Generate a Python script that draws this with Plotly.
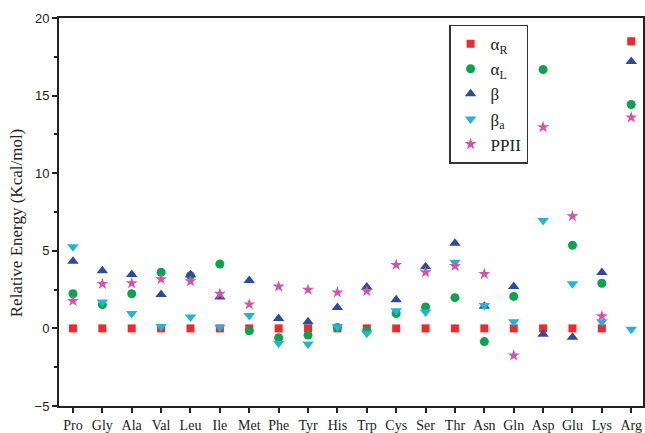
import plotly.graph_objects as go

categories = ["Pro", "Gly", "Ala", "Val", "Leu", "Ile", "Met", "Phe", "Tyr", "His",
              "Trp", "Cys", "Ser", "Thr", "Asn", "Gln", "Asp", "Glu", "Lys", "Arg"]

alpha_R = [0, 0, 0, 0, 0, 0, 0, 0, 0, 0, 0, 0, 0, 0, 0, 0, 0, 0, 0, 18.5]
alpha_L = [2.23, 1.53, 2.23, 3.62, 3.4, 4.15, -0.15, -0.6, -0.43, 0.06,
           -0.15, 0.96, 1.38, 1.98, -0.85, 2.06, 16.68, 5.36, 2.91, 14.43]
beta = [4.32, 3.72, 3.47, 2.19, 3.45, 2.02, 3.09, 0.64, 0.43, 1.34,
        2.66, 1.85, 3.98, 5.49, 1.43, 2.7, -0.38, -0.57, 3.6, 17.2]
beta_a = [5.26, 1.7, 0.96, 0.12, 0.74, 0.08, 0.83, -0.96, -1.0, 0.1,
          -0.32, 1.13, 1.06, 4.26, 1.47, 0.43, 6.96, 2.87, 0.43, -0.06]
ppii = [1.77, 2.87, 2.91, 3.17, 3.04, 2.23, 1.55, 2.7, 2.49, 2.32,
        2.4, 4.09, 3.62, 4.02, 3.51, -1.74, 12.97, 7.23, 0.79, 13.6]

series = [
    ("α<sub>R</sub>", alpha_R, "square", "#EE2A2A", 8),
    ("α<sub>L</sub>", alpha_L, "circle", "#0BA34B", 9),
    ("β", beta, "triangle-up", "#2B4AA0", 10),
    ("β<sub>a</sub>", beta_a, "triangle-down", "#1DB6DA", 10),
    ("PPII", ppii, "star", "#D651A8", 9),
]

fig = go.Figure()
xs = list(range(len(categories)))
for name, vals, sym, col, sz in series:
    fig.add_trace(go.Scatter(
        x=xs, y=vals, mode="markers", name=name,
        marker=dict(symbol=sym, color=col, size=sz, line=dict(width=0)),
    ))

fig.update_layout(
    width=645, height=433,
    margin=dict(l=59, r=0, t=18, b=23),
    paper_bgcolor="white", plot_bgcolor="white",
    showlegend=True,
    legend=dict(
        x=0.668, y=0.983, xanchor="left", yanchor="top",
        bordercolor="#333", borderwidth=1.5, bgcolor="white",
        font=dict(family="Liberation Serif, Times New Roman, serif", size=17, color="#222"),
        itemsizing="trace", tracegroupgap=0, itemwidth=30,
    ),
    annotations=[dict(
        text="Relative Energy (Kcal/mol)", textangle=-90,
        xref="paper", yref="paper", x=-0.073, y=0.472,
        xanchor="center", yanchor="middle", showarrow=False,
        font=dict(family="Liberation Serif, Times New Roman, serif", size=17, color="#222"),
    )],
)
fig.update_xaxes(
    range=[-0.475, 19.4],
    tickmode="array", tickvals=xs, ticktext=categories,
    showline=True, linecolor="#222", linewidth=2, mirror=True,
    ticks="outside", ticklen=5, tickwidth=1.5, tickcolor="#222",
    showgrid=False, zeroline=False,
    tickfont=dict(family="Liberation Serif, Times New Roman, serif", size=14, color="#222"),
)
fig.update_yaxes(
    range=[-5, 20], dtick=5, tick0=0,
    showline=True, linecolor="#222", linewidth=2, mirror=True,
    ticks="outside", ticklen=5, tickwidth=1.5, tickcolor="#222",
    minor=dict(dtick=2.5, ticks="outside", ticklen=3, tickcolor="#222", tickwidth=1.5),
    showgrid=False, zeroline=False,
    tickfont=dict(family="Liberation Sans, Arial, sans-serif", size=13, color="#222"),
)

fig.write_html("out.html")
